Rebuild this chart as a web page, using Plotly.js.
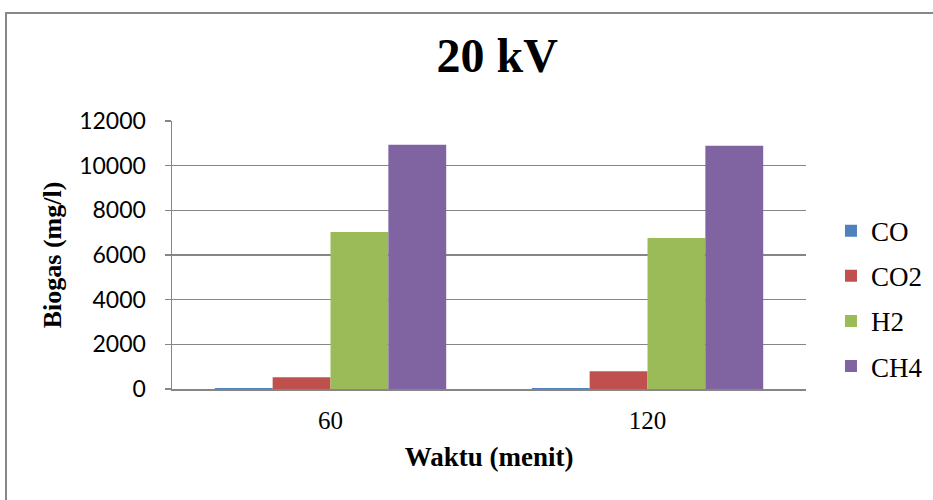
<!DOCTYPE html>
<html>
<head>
<meta charset="utf-8">
<script src="https://cdn.plot.ly/plotly-3.0.1.min.js"></script>
<style>
html,body{margin:0;padding:0;background:#fff;}
#wrap{position:relative;width:933px;height:500px;overflow:hidden;}
#chart{position:absolute;left:0;top:0;width:933px;height:500px;}
#frame{position:absolute;left:5px;top:12px;width:1000px;height:600px;border-left:2px solid #888;border-top:2px solid #888;pointer-events:none;}
</style>
</head>
<body>
<div id="wrap"><div id="chart"></div><div id="frame"></div></div>
<script>
const categories = ["60", "120"];
const seriesNames = ["CO", "CO2", "H2", "CH4"];
const CO  = [50, 50];
const CO2 = [530, 800];
const H2  = [7030, 6760];
const CH4 = [10940, 10890];
const yTicks = [0, 2000, 4000, 6000, 8000, 10000, 12000];
const colors = ["#4F81BD", "#C0504D", "#9BBB59", "#8064A2"];

const values = [CO, CO2, H2, CH4];
const traces = values.map((v, i) => ({
  type: "bar",
  name: seriesNames[i],
  x: categories,
  y: v,
  legendgroup: seriesNames[i],
  marker: {color: colors[i]},
  hoverinfo: "skip"
}));

const layout = {
  width: 933, height: 500,
  margin: {l: 172, r: 127, t: 121, b: 111, pad: 0, autoexpand: false},
  paper_bgcolor: "#fff", plot_bgcolor: "#fff",
  barmode: "group", bargap: 0.27, bargroupgap: 0,
  title: {text: "<b>20 kV</b>", font: {family: "Liberation Serif", size: 48, color: "#000"},
          x: 0.533, xanchor: "center", y: 0.89, yanchor: "middle"},
  xaxis: {
    type: "category",
    showline: true, linecolor: "#868686", linewidth: 2,
    ticks: "", ticklabelstandoff: 8,
    tickfont: {family: "Liberation Serif", size: 25, color: "#000"},
    title: {text: "<b>Waktu (menit)</b>", font: {family: "Liberation Serif", size: 27, color: "#000"}, standoff: 14},
    showgrid: false, zeroline: false, fixedrange: true
  },
  yaxis: {
    range: [0, 12000], tickvals: yTicks, ticktext: yTicks.map(String),
    showline: true, linecolor: "#868686", linewidth: 1.5,
    ticks: "outside", ticklen: 6, tickcolor: "#868686", tickwidth: 1.5,
    ticklabelstandoff: 14,
    tickfont: {family: "Lato", size: 23, color: "#000"},
    showgrid: true, gridcolor: "#868686", gridwidth: 1.5,
    zeroline: false,
    title: {text: "<b>Biogas (mg/l)</b>", font: {family: "Liberation Serif", size: 26, color: "#000"}, standoff: 10},
    fixedrange: true
  },
  showlegend: true,
  legend: {
    x: 1.0394, xanchor: "left", y: 0.337, yanchor: "middle",
    traceorder: "grouped", tracegroupgap: 7,
    font: {family: "Liberation Serif", size: 27, color: "#000"},
    bgcolor: "rgba(0,0,0,0)", itemclick: false, itemdoubleclick: false
  }
};

Plotly.newPlot("chart", traces, layout, {staticPlot: true, displayModeBar: false});
</script>
</body>
</html>
